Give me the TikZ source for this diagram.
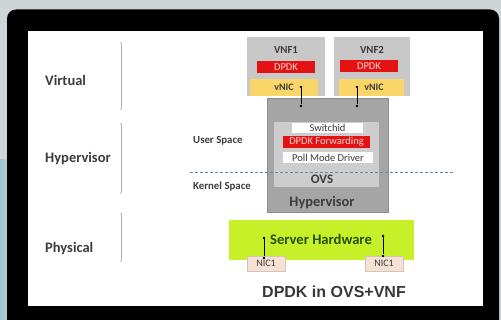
\documentclass[tikz,border=0pt]{standalone}
\usepackage{fontspec}
\setmainfont{Carlito}
\newfontfamily\titlefont{Liberation Sans}
\definecolor{bgout}{RGB}{206,213,214}
\definecolor{bgteal}{RGB}{150,200,205}
\definecolor{lblgray}{RGB}{60,60,60}
\definecolor{vnfgray}{RGB}{200,200,200}
\definecolor{hvgray}{RGB}{165,165,165}
\definecolor{ovsgray}{RGB}{205,205,205}
\definecolor{dpdkred}{RGB}{228,18,18}
\definecolor{nicyel}{RGB}{250,214,104}
\definecolor{hwgreen}{RGB}{200,240,40}
\definecolor{hwtext}{RGB}{30,85,0}
\definecolor{nicbeige}{RGB}{245,226,212}
\definecolor{dashblue}{RGB}{100,135,175}
\definecolor{scalegray}{RGB}{175,175,175}
\begin{document}
\begin{tikzpicture}[x=1pt,y=-1pt,
  blk/.style={draw=none,inner sep=0pt,outer sep=0pt},
  lbl/.style={inner sep=0pt,text=lblgray,font=\bfseries\fontsize{14.5}{16}\selectfont},
  sublbl/.style={inner sep=0pt,text=lblgray,font=\bfseries\fontsize{10.8}{12}\selectfont},
  small/.style={inner sep=0pt,font=\fontsize{10.5}{12}\selectfont},
  conn/.style={draw=black,line width=0.6pt},
  dotend/.style={circle,fill=black,inner sep=0pt,minimum size=2.6pt},
  scale line/.style={draw=scalegray,line width=0.6pt},
  sdot/.style={circle,fill=scalegray,inner sep=0pt,minimum size=1.8pt}]
\useasboundingbox (0,0) rectangle (501,320);
% outer background
\fill[bgout] (0,0) rectangle (501,320);
\shade[left color=bgteal,right color=bgout] (0,160) rectangle (12,320);
% black panel
\fill[black,rounded corners=9pt] (7,9.5) rectangle (499,340);
% white panel
\fill[white] (28,31) rectangle (483,306);
% scale lines
\node[sdot] (v1) at (121,43) {};
\node[sdot] (v2) at (121,109) {};
\node[sdot] (h1) at (121,124) {};
\node[sdot] (h2) at (121,193) {};
\node[sdot] (p1) at (121,214) {};
\node[sdot] (p2) at (121,261) {};
\draw[scale line] (v1) -- (v2);
\draw[scale line] (h1) -- (h2);
\draw[scale line] (p1) -- (p2);
% left labels
\node[lbl,anchor=west] (virt) at (45,80) {Virtual};
\node[lbl,anchor=west] (hyp) at (45,159) {Hypervisor};
\node[lbl,anchor=west] (phys) at (45,249) {Physical};
\node[sublbl,anchor=west] (us) at (193,141) {User Space};
\node[sublbl,anchor=west] (ks) at (193,187) {Kernel Space};
% VNF1
\node[blk,fill=vnfgray,minimum width=78pt,minimum height=59pt] (vnf1) at (286,66.5) {};
\node[sublbl] (vnf1t) at (286,50) {VNF1};
\node[blk,fill=dpdkred,minimum width=58pt,minimum height=12pt] (dpdk1) at (286,67) {};
\node[small,text=white!85!red] at (dpdk1) {DPDK};
\node[blk,fill=nicyel,minimum width=68pt,minimum height=17pt] (vnic1) at (284,87.5) {};
\node[inner sep=0pt,text=lblgray,font=\bfseries\fontsize{10}{12}\selectfont] at (284,87.5) {vNIC};
% VNF2
\node[blk,fill=vnfgray,minimum width=76pt,minimum height=59pt] (vnf2) at (372,66.5) {};
\node[sublbl] (vnf2t) at (372,50) {VNF2};
\node[blk,fill=dpdkred,minimum width=58pt,minimum height=12pt] (dpdk2) at (369,66) {};
\node[small,text=white!85!red] at (dpdk2) {DPDK};
\node[blk,fill=nicyel,minimum width=65pt,minimum height=17pt] (vnic2) at (371.5,87.5) {};
\node[inner sep=0pt,text=lblgray,font=\bfseries\fontsize{10}{12}\selectfont] at (374,87.5) {vNIC};
% Hypervisor box
\node[blk,fill=hvgray,draw=hvgray!85!black,line width=0.6pt,minimum width=121pt,minimum height=114pt] (hv) at (327.5,155) {};
\node[blk,fill=ovsgray,minimum width=105pt,minimum height=65pt] (ovs) at (326.5,154.5) {};
\node[blk,fill=white,minimum width=71pt,minimum height=10pt] (sw) at (327.5,128) {};
\node[small,text=lblgray] at (sw) {Switchid};
\node[blk,fill=dpdkred,minimum width=87pt,minimum height=12pt] (fwd) at (326.5,142) {};
\node[small,text=white!85!red] at (fwd) {DPDK Forwarding};
\node[blk,fill=white,minimum width=90pt,minimum height=11pt] (pmd) at (328,157.5) {};
\node[small,text=lblgray] at (pmd) {Poll Mode Driver};
\node[inner sep=0pt,text=lblgray,font=\bfseries\fontsize{13}{14}\selectfont] (ovst) at (322,179) {OVS};
\node[inner sep=0pt,text=lblgray,font=\bfseries\fontsize{14.4}{16}\selectfont] (hvt) at (322,203) {Hypervisor};
% dashed separation
\coordinate (dl) at (190,172);
\coordinate (dr) at (453,172);
\draw[dashblue,line width=0.7pt,dash pattern=on 3pt off 2pt] (dl) -- (dr);
% vNIC connectors
\node[dotend] (c1a) at (301,87) {};
\node[dotend] (c1b) at (301,106) {};
\node[dotend] (c2a) at (357,87) {};
\node[dotend] (c2b) at (357,106) {};
\draw[conn] (c1a) -- (c1b);
\draw[conn] (c2a) -- (c2b);
% server hardware
\node[blk,fill=hwgreen,minimum width=185pt,minimum height=40pt] (hw) at (321.5,240) {};
\node[inner sep=0pt,text=hwtext,font=\bfseries\fontsize{14.6}{16}\selectfont] (hwt) at (321,239) {Server Hardware};
\node[blk,fill=nicbeige,draw=nicbeige!70!gray,line width=0.4pt,minimum width=38pt,minimum height=15pt] (nic1) at (266,263.5) {};
\node[small,text=lblgray,font=\fontsize{10}{12}\selectfont] at (nic1) {NIC1};
\node[blk,fill=nicbeige,draw=nicbeige!70!gray,line width=0.4pt,minimum width=38pt,minimum height=15pt] (nic2) at (384,263.5) {};
\node[small,text=lblgray,font=\fontsize{10}{12}\selectfont] at (nic2) {NIC1};
\node[dotend] (n1a) at (264,238) {};
\node[dotend] (n1b) at (264,258) {};
\node[dotend] (n2a) at (383,236) {};
\node[dotend] (n2b) at (383,256) {};
\draw[conn] (n1a) -- (n1b);
\draw[conn] (n2a) -- (n2b);
% title
\node[inner sep=0pt,text=black!78,font=\titlefont\bfseries\fontsize{16}{19}\selectfont] (title) at (334,292) {DPDK in OVS+VNF};
\end{tikzpicture}
\end{document}
